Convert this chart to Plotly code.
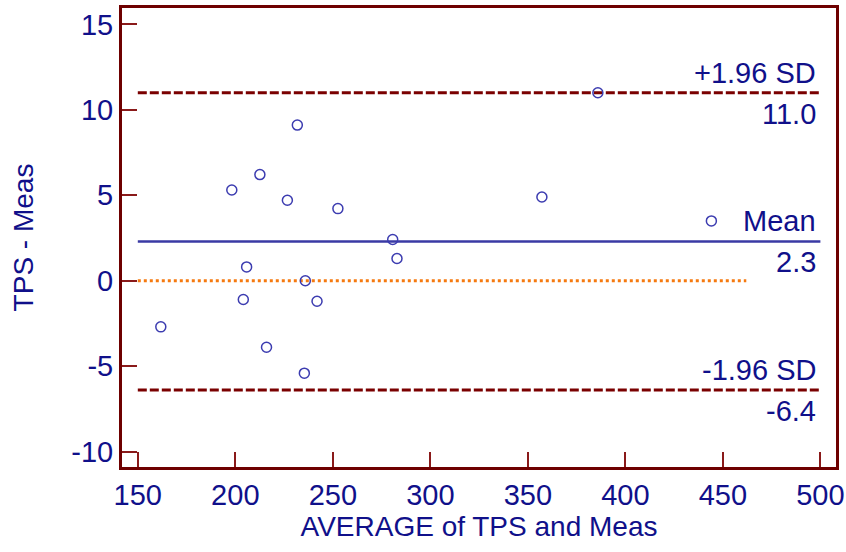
import plotly.graph_objects as go

# Data
avg_vals = [161.8, 198.2, 212.6, 231.8, 226.7, 252.6, 280.7, 282.9, 205.8,
            235.9, 204.1, 241.9, 216.0, 235.4, 385.9, 357.2, 444.1]
diff_vals = [-2.70, 5.31, 6.21, 9.11, 4.71, 4.22, 2.41, 1.30, 0.81,
             0.00, -1.10, -1.20, -3.89, -5.41, 11.0, 4.9, 3.5]

mean_diff = 2.3
upper_loa = 11.0
lower_loa = -6.4
line_x = [150, 500]
zero_x = [150, 462]

x_ticks = [150, 200, 250, 300, 350, 400, 450, 500]
y_ticks = [-10, -5, 0, 5, 10, 15]
y_ticktext = ["-10", "-5", "0", "5", "10", "15"]

NAVY = "#10108a"
MAROON = "#6e0000"
FONT = "Liberation Sans, Arial, sans-serif"

fig = go.Figure()

fig.add_trace(go.Scatter(x=zero_x, y=[0, 0], mode="lines",
                         line=dict(color="#f57a10", width=3, dash="3px,3px"),
                         hoverinfo="skip", showlegend=False))
fig.add_trace(go.Scatter(x=line_x, y=[upper_loa] * 2, mode="lines",
                         line=dict(color="#7a0000", width=3, dash="9px,3px"),
                         showlegend=False))
fig.add_trace(go.Scatter(x=line_x, y=[lower_loa] * 2, mode="lines",
                         line=dict(color="#7a0000", width=3, dash="9px,3px"),
                         showlegend=False))
fig.add_trace(go.Scatter(x=line_x, y=[mean_diff] * 2, mode="lines",
                         line=dict(color="#3a3aa4", width=2.5),
                         showlegend=False))
fig.add_trace(go.Scatter(x=avg_vals, y=diff_vals, mode="markers",
                         marker=dict(symbol="circle-open", size=10, color="#3c3cb0",
                                     line=dict(color="#3c3cb0", width=1.5)),
                         showlegend=False))

def label(y, text, above):
    fig.add_annotation(x=line_x[1], y=y, text=text, showarrow=False,
                       xanchor="right", yanchor="bottom" if above else "top",
                       xshift=-2, yshift=2 if above else -3,
                       font=dict(family=FONT, size=29, color=NAVY))

label(upper_loa, "+1.96 SD", True)
label(upper_loa, f"{upper_loa:.1f}", False)
label(mean_diff, "Mean", True)
label(mean_diff, f"{mean_diff:.1f}", False)
label(lower_loa, "-1.96 SD", True)
label(lower_loa, f"{lower_loa:.1f}", False)

axis_common = dict(showline=True, linecolor=MAROON, linewidth=3, mirror=True,
                   showgrid=False, zeroline=False, automargin=False,
                   ticks="inside", ticklen=15, tickwidth=1.5, tickcolor="#8a1a1a",
                   tickfont=dict(family=FONT, size=29, color=NAVY))

fig.update_xaxes(range=[141.9, 508.0], tickvals=x_ticks,
                 title=dict(text="AVERAGE of TPS and Meas", standoff=6,
                            font=dict(family=FONT, size=28, color=NAVY)),
                 **axis_common)
fig.update_yaxes(range=[-10.9, 15.96], tickvals=y_ticks, ticktext=y_ticktext,
                 title=dict(text="TPS - Meas", standoff=30,
                            font=dict(family=FONT, size=28, color=NAVY)),
                 **axis_common)

fig.update_layout(width=846, height=552,
                  margin=dict(l=122, r=10, t=8, b=85),
                  plot_bgcolor="white", paper_bgcolor="white",
                  showlegend=False)

fig.write_html("out.html")
